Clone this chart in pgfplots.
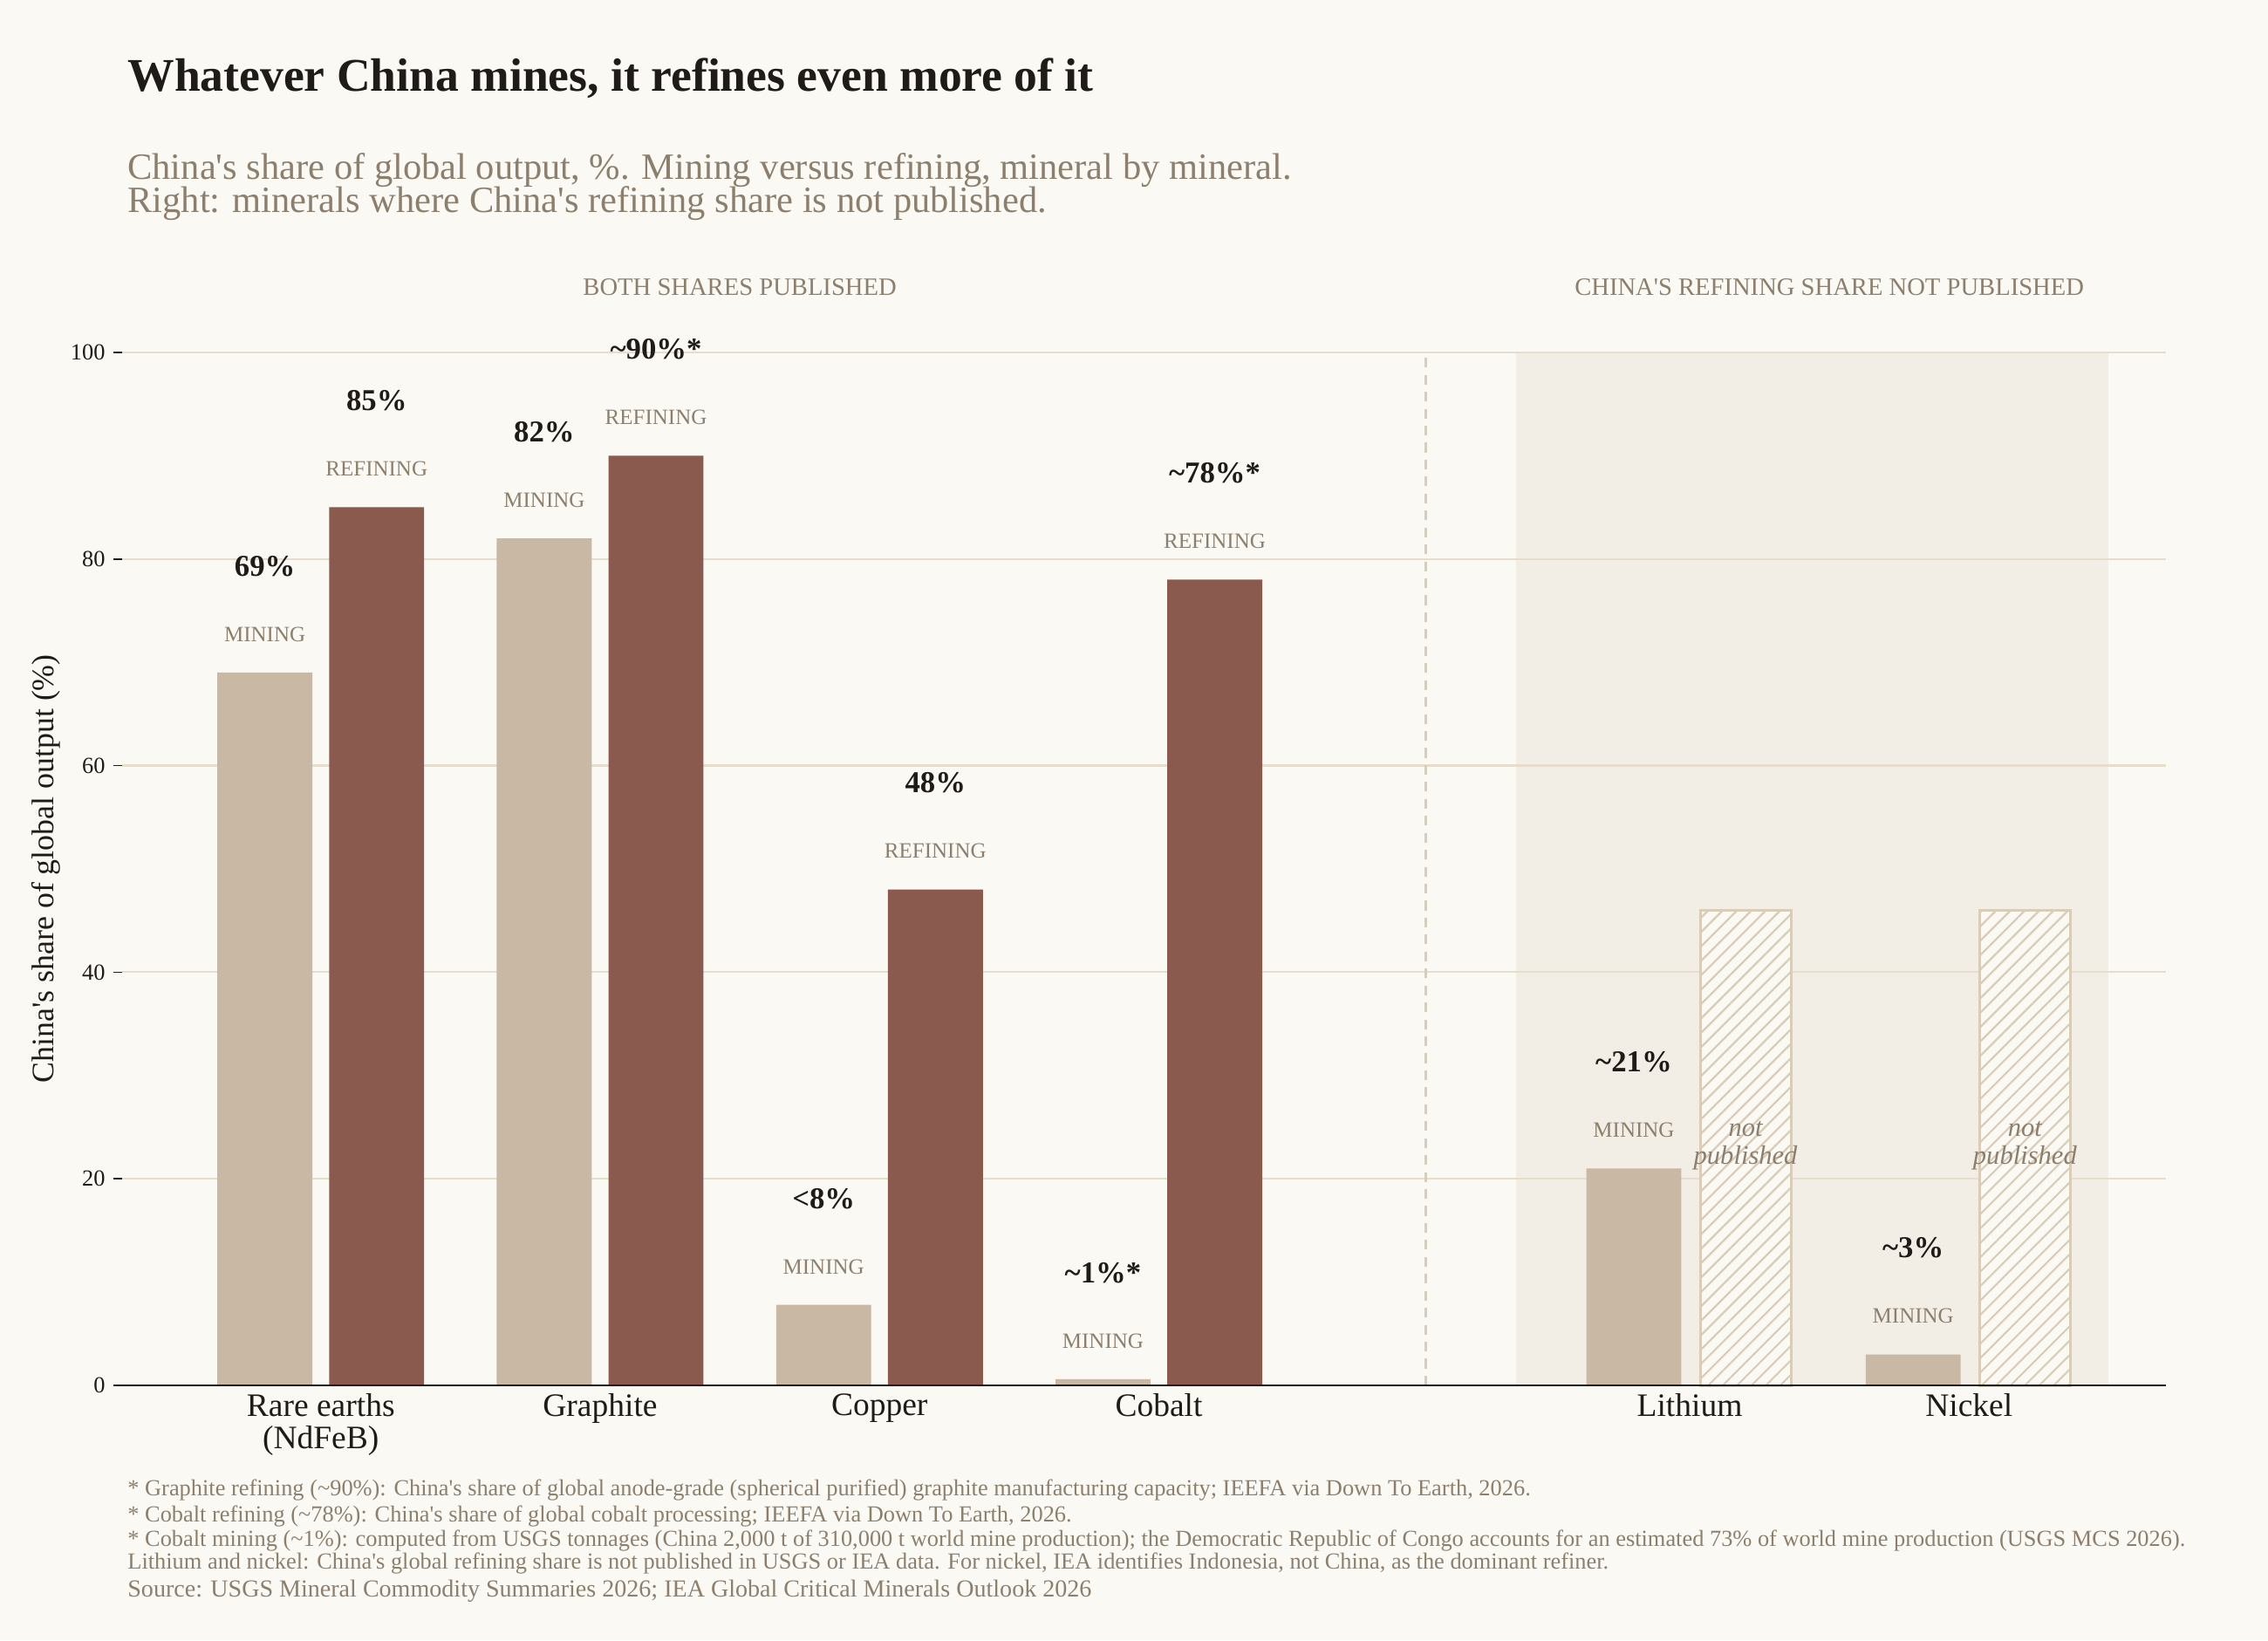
\documentclass[border=0pt]{standalone}
\usepackage{pgfplots}
\pgfplotsset{compat=1.18}
\usepackage{fontspec}
\setmainfont{Liberation Serif}
\usetikzlibrary{patterns.meta}
\definecolor{bg}{HTML}{FBF9F4}
\definecolor{mining}{HTML}{C9B9A4}
\definecolor{refining}{HTML}{8B5A4F}
\definecolor{shadec}{HTML}{F2EDE5}
\definecolor{gridc}{HTML}{E6DDCD}
\definecolor{dashc}{HTML}{D9CDB9}
\definecolor{hatchc}{HTML}{D9CDB9}
\definecolor{graytext}{HTML}{8C7F6E}
\definecolor{darktext}{HTML}{1F1B18}
\newcommand{\q}{\textquotesingle}
\newcommand{\tl}{\textasciitilde}
\tikzset{
  vlab/.style={font=\fontsize{12.5}{13}\selectfont\bfseries, text=darktext, anchor=center},
  clab/.style={font=\fontsize{9}{10}\selectfont, text=graytext, anchor=center},
}
\pagecolor{bg}
\begin{document}
\begin{tikzpicture}
\path (0,0) rectangle (936pt,676.8pt);
\begin{axis}[
  set layers=standard,
  at={(50.4pt,105.1pt)}, anchor=south west,
  scale only axis, width=843.5pt, height=426.3pt,
  xmin=-0.711, xmax=6.605, ymin=0, ymax=100,
  clip=false,
  axis line style={draw=none},
  ymajorgrids, grid style={gridc, line width=0.8pt},
  ytick={0,20,40,60,80,100},
  ytick pos=left, xtick pos=bottom,
  xtick={0,1,2,3,4.9,5.9},
  xticklabels={{Rare earths\\(NdFeB)},Graphite,Copper,Cobalt,Lithium,Nickel},
  xtick style={draw=none},
  ytick style={draw=darktext, line width=0.6pt},
  tick align=outside, major tick length=3.5pt,
  /pgf/number format/assume math mode=true,
  yticklabel style={font=\fontsize{9.5}{10}\selectfont, text=darktext},
  xticklabel style={font=\fontsize{13.5}{13.1}\selectfont, text=darktext, align=center, yshift=3.5pt},
]
\begin{pgfonlayer}{axis background}
\fill[shadec] (axis cs:4.28,0) rectangle (axis cs:6.40,100);
\end{pgfonlayer}
\draw[dashc, line width=0.9pt, dash pattern=on 4pt off 3pt] (axis cs:3.955,0) -- (axis cs:3.955,100);
% mining
\addplot[ybar, bar width=0.34, bar shift=-0.2, fill=mining, draw=none] coordinates {(0,69) (1,82) (2,7.8) (3,0.6) (4.9,21) (5.9,3)};
% refining
\addplot[ybar, bar width=0.34, bar shift=0.2, fill=refining, draw=none] coordinates {(0,85) (1,90) (2,48) (3,78)};
% not published
\addplot[ybar, bar width=0.325, bar shift=0.2, fill=bg, draw=none] coordinates {(4.9,46) (5.9,46)};
\addplot[ybar, bar width=0.325, bar shift=0.2, draw=hatchc, line width=1.1pt, pattern={Lines[angle=45,distance=4.2pt,line width=0.8pt]}, pattern color=hatchc] coordinates {(4.9,46) (5.9,46)};
\draw[darktext, line width=0.8pt] (rel axis cs:0,0) -- (rel axis cs:1,0);
% labels
\node[vlab] at (axis cs:-0.2,79.3) {69\%};
\node[clab] at (axis cs:-0.2,72.7) {MINING};
\node[vlab] at (axis cs:0.2,95.3) {85\%};
\node[clab] at (axis cs:0.2,88.7) {REFINING};
\node[vlab] at (axis cs:0.8,92.3) {82\%};
\node[clab] at (axis cs:0.8,85.7) {MINING};
\node[vlab] at (axis cs:1.2,100.3) {\tl90\%*};
\node[clab] at (axis cs:1.2,93.7) {REFINING};
\node[vlab] at (axis cs:1.8,18.1) {<8\%};
\node[clab] at (axis cs:1.8,11.5) {MINING};
\node[vlab] at (axis cs:2.2,58.3) {48\%};
\node[clab] at (axis cs:2.2,51.7) {REFINING};
\node[vlab] at (axis cs:2.8,10.9) {\tl1\%*};
\node[clab] at (axis cs:2.8,4.3) {MINING};
\node[vlab] at (axis cs:3.2,88.3) {\tl78\%*};
\node[clab] at (axis cs:3.2,81.7) {REFINING};
\node[vlab] at (axis cs:4.7,31.3) {\tl21\%};
\node[clab] at (axis cs:4.7,24.7) {MINING};
\node[vlab] at (axis cs:5.7,13.3) {\tl3\%};
\node[clab] at (axis cs:5.7,6.7) {MINING};
\node[font=\fontsize{11}{11.5}\selectfont\itshape, text=graytext, align=center] at (axis cs:5.1,23.2) {not\\published};
\node[font=\fontsize{11}{11.5}\selectfont\itshape, text=graytext, align=center] at (axis cs:6.1,23.2) {not\\published};
\node[font=\fontsize{10.3}{11}\selectfont, text=graytext, anchor=base] at (axis cs:1.5,105.5) {BOTH SHARES PUBLISHED};
\node[font=\fontsize{10.3}{11}\selectfont, text=graytext, anchor=base] at (axis cs:5.4,105.5) {CHINA\q S REFINING SHARE NOT PUBLISHED};
\end{axis}
\node[font=\fontsize{12.9}{13}\selectfont, text=darktext, rotate=90, anchor=center] at (19.1pt,318.3pt) {China\q s share of global output (\%)};
\node[font=\fontsize{19.3}{20}\selectfont\bfseries, text=darktext, anchor=base west, inner sep=0pt] at (52.5pt,639.2pt) {Whatever China mines, it refines even more of it};
\node[font=\fontsize{15.3}{16}\selectfont, text=graytext, anchor=base west, inner sep=0pt] at (52.5pt,602.8pt) {China\q s share of global output, \%. Mining versus refining, mineral by mineral.};
\node[font=\fontsize{15.3}{16}\selectfont, text=graytext, anchor=base west, inner sep=0pt] at (52.5pt,589.0pt) {Right: minerals where China\q s refining share is not published.};
\begin{scope}[every node/.style={font=\fontsize{9.5}{10}\selectfont, text=graytext, anchor=base west, inner sep=0pt}]
\node at (52.5pt,59.6pt) {* Graphite refining (\tl90\%): China\q s share of global anode-grade (spherical purified) graphite manufacturing capacity; IEEFA via Down To Earth, 2026.};
\node at (52.5pt,48.9pt) {* Cobalt refining (\tl78\%): China\q s share of global cobalt processing; IEEFA via Down To Earth, 2026.};
\node at (52.5pt,38.7pt) {* Cobalt mining (\tl1\%): computed from USGS tonnages (China 2,000 t of 310,000 t world mine production); the Democratic Republic of Congo accounts for an estimated 73\% of world mine production (USGS MCS 2026).};
\node at (52.5pt,29.2pt) {Lithium and nickel: China\q s global refining share is not published in USGS or IEA data. For nickel, IEA identifies Indonesia, not China, as the dominant refiner.};
\node[font=\fontsize{10.1}{11}\selectfont] at (52.5pt,17.8pt) {Source: USGS Mineral Commodity Summaries 2026; IEA Global Critical Minerals Outlook 2026};
\end{scope}
\pgfresetboundingbox
\useasboundingbox (0,0) rectangle (936pt,676.8pt);
\end{tikzpicture}
\end{document}
